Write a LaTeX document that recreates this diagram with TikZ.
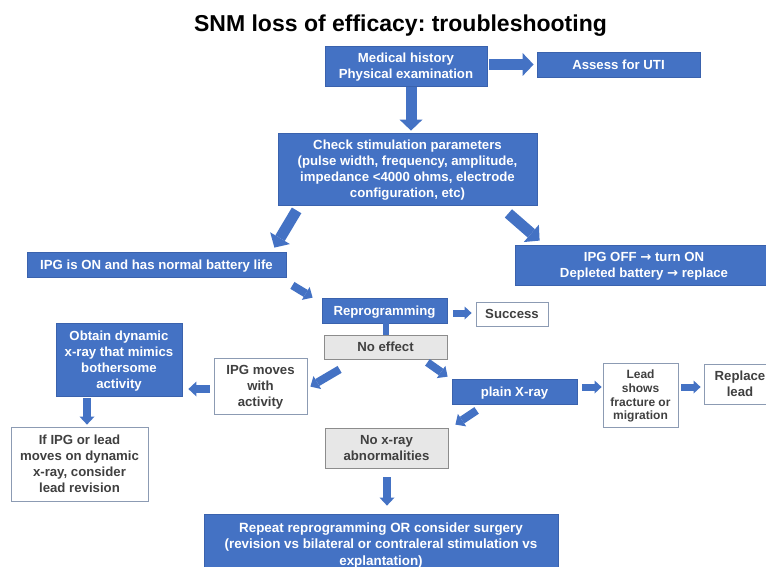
\documentclass[tikz,border=0pt]{standalone}
\usepackage{fontspec}
\setmainfont{Liberation Sans}
\newfontfamily\symfont{DejaVu Sans}
\frenchspacing
\usetikzlibrary{arrows.meta,calc}
\definecolor{bfill}{HTML}{4472C4}
\definecolor{bline}{HTML}{3A62AD}
\definecolor{wline}{HTML}{8C9BB3}
\definecolor{gfill}{HTML}{E7E7E7}
\definecolor{gline}{HTML}{8C8C8C}
\definecolor{dtext}{HTML}{404040}
\newcommand{\rarr}{{\symfont\bfseries →}}
\tikzset{
 basebox/.style={rectangle, inner sep=0pt, align=center, text depth=0pt, font=\fontsize{13.2}{16}\selectfont\bfseries, line width=0.8pt},
 oneline/.style={text height=9.5pt, text depth=0pt},
 bluebox/.style={basebox, fill=bfill, draw=bline, text=white},
 whitebox/.style={basebox, fill=white, draw=wline, text=dtext},
 graybox/.style={basebox, fill=gfill, draw=gline, text=dtext},
 bigarrow/.style={draw=bfill, line width=11pt, -{Triangle[length=11pt,width=23pt,line width=0pt]}},
 midarrow/.style={draw=bfill, line width=8pt, -{Triangle[length=8pt,width=15pt,line width=0pt]}},
 smallarrow/.style={draw=bfill, line width=7pt, -{Triangle[length=7pt,width=13pt,line width=0pt]}},
}
\begin{document}
\begin{tikzpicture}[x=1pt,y=-1pt]
\clip (0,0) rectangle (766,567);
\useasboundingbox (0,0) rectangle (766,567);
\fill[white] (0,0) rectangle (766,567);

\node[font=\fontsize{23}{27}\selectfont\bfseries, anchor=base] (title) at (400.5,32) {SNM loss of efficacy: troubleshooting};

\node[bluebox, minimum width=162pt, minimum height=40pt] (med) at (406,66) {Medical history\\Physical examination};
\node[bluebox, oneline, minimum width=163pt, minimum height=25pt] (uti) at (618.5,64.5) {Assess for UTI};
\node[bluebox, minimum width=259pt, minimum height=72pt] (chk) at (407.5,169) {Check stimulation parameters\\(pulse width, frequency, amplitude,\\impedance <4000 ohms, electrode\\configuration, etc)};
\node[bluebox, oneline, minimum width=259pt, minimum height=25pt] (ipgon) at (156.5,264.5) {IPG is ON and has normal battery life};
\node[bluebox, minimum width=258pt, minimum height=40pt] (ipgoff) at (644,265) {IPG OFF \rarr{} turn ON\\Depleted battery \rarr{} replace};
\node[bluebox, oneline, minimum width=125pt, minimum height=25pt] (reprog) at (384.5,310.5) {Reprogramming};
\node[whitebox, oneline, minimum width=72pt, minimum height=24pt] (success) at (512,314) {Success};
\node[graybox, oneline, minimum width=123pt, minimum height=24pt] (noeff) at (385.5,347) {No effect};
\node[bluebox, minimum width=126pt, minimum height=73pt] (obtain) at (119,359.5) {Obtain dynamic\\x-ray that mimics\\bothersome\\activity};
\node[whitebox, minimum width=93pt, minimum height=56pt] (ipgmov) at (260.5,386) {IPG moves\\with\\activity};
\node[bluebox, oneline, minimum width=125pt, minimum height=25pt] (xray) at (514.5,391.5) {plain X-ray};
\node[whitebox, minimum width=75pt, minimum height=64pt, font=\fontsize{12}{13.7}\selectfont\bfseries] (lead) at (640.5,395) {Lead\\shows\\fracture or\\migration};
\node[whitebox, minimum width=72pt, minimum height=40pt] (replace) at (740,384) {Replace\\lead};
\node[whitebox, minimum width=137pt, minimum height=74pt] (ifipg) at (79.5,464) {If IPG or lead\\moves on dynamic\\x-ray, consider\\lead revision};
\node[graybox, minimum width=123pt, minimum height=40pt] (noxray) at (386.5,448) {No x-ray\\abnormalities};
\node[bluebox, minimum width=354pt, minimum height=60pt, font=\fontsize{13.4}{16.5}\selectfont\bfseries] (final) at (381,544) {Repeat reprogramming OR consider surgery\\(revision vs bilateral or contraleral stimulation vs\\explantation)};

% connector end points
\coordinate (sucS) at ([yshift=1pt]reprog.east |- success.west);
\coordinate (movS) at ([yshift=-3pt]ipgmov.west);
\coordinate (xrS) at ([yshift=4.5pt]xray.east);
\coordinate (ldS) at ([yshift=8pt]lead.east);

% connectors
\draw[bigarrow, shorten <=2pt, shorten >=3pt] (med.east |- uti.west) -- (uti.west);
\draw[bigarrow, shorten <=1pt, shorten >=2pt] ([xshift=5pt]med.south) -- ([xshift=5pt]med.south |- chk.north);
\draw[bigarrow] ([shift={(19,5)}]chk.south west) -- ([shift={(-12,-4)}]ipgon.north east);
\draw[bigarrow] ([shift={(-29,8)}]chk.south east) -- ([shift={(25,-4)}]ipgoff.north west);
\draw[midarrow] ([shift={(6,8)}]ipgon.south east) -- ([shift={(-9,0)}]reprog.north west);
\draw[smallarrow, shorten <=6pt, shorten >=4pt] (sucS) -- (success.west |- sucS);
\draw[draw=bfill, line width=6pt] ([xshift=1.5pt]reprog.south) -- ([xshift=1.5pt]reprog.south |- noeff.north);
\draw[midarrow] ([shift={(16,10)}]noeff.south west) -- ([shift={(3,29)}]ipgmov.north east);
\draw[midarrow] ([shift={(-20,3)}]noeff.south east) -- ([shift={(-4,-2)}]xray.north west);
\draw[midarrow, shorten <=4pt, shorten >=6pt] (movS) -- (obtain.east |- movS);
\draw[midarrow, shorten <=2pt, shorten >=2pt] ([xshift=-32pt]obtain.south) -- ([xshift=-32pt]obtain.south |- ifipg.north);
\draw[smallarrow, shorten <=5pt, shorten >=1pt] (xrS) -- (lead.west |- xrS);
\draw[smallarrow, shorten <=3pt, shorten >=3pt] (ldS) -- (replace.west |- ldS);
\draw[midarrow] ([shift={(25,6)}]xray.south west) -- ([shift={(7,-3)}]noxray.north east);
\draw[midarrow, shorten <=9pt, shorten >=8pt] ([xshift=0.5pt]noxray.south) -- ([xshift=0.5pt]noxray.south |- final.north);
\end{tikzpicture}
\end{document}
